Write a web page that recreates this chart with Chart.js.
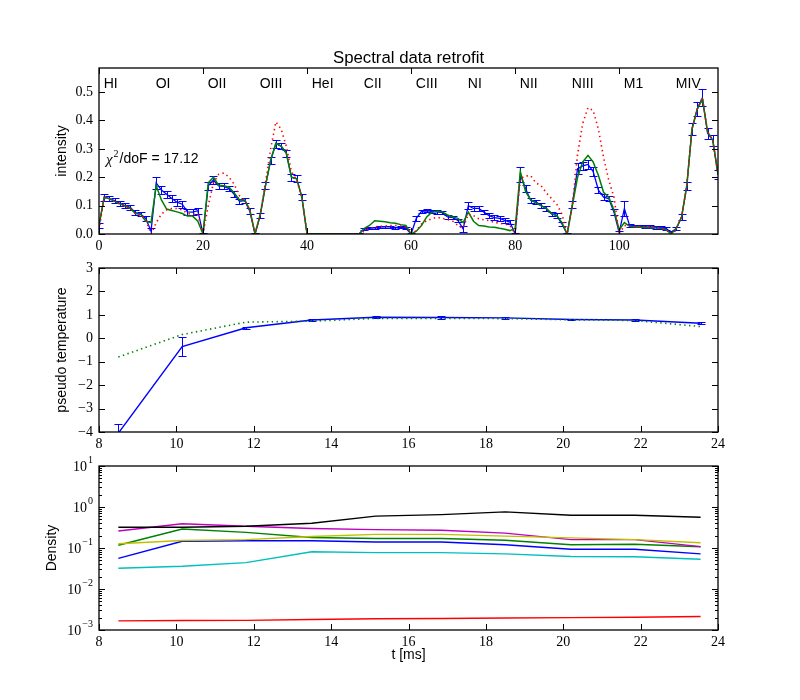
<!DOCTYPE html>
<html>
<head>
<meta charset="utf-8">
<script src="https://cdn.jsdelivr.net/npm/chart.js@4/dist/chart.umd.min.js"></script>
<style>
body { margin: 0; background: #fff; }
#wrap { position: relative; width: 800px; height: 700px; }
canvas { position: absolute; left: 0; }
</style>
</head>
<body>
<div id="wrap">
<canvas id="c1" width="800" height="250" style="top:0px"></canvas>
<canvas id="c2" width="800" height="200" style="top:250px"></canvas>
<canvas id="c3" width="800" height="250" style="top:450px"></canvas>
</div>
<script>
// ---- top panel: spectral lines, 10 channels per line group
var groups = ['HI','OI','OII','OIII','HeI','CII','CIII','NI','NII','NIII','M1','MIV'];
var measured = [
  0.03, 0.13, 0.125, 0.118, 0.108, 0.1, 0.094, 0.075, 0.07, 0.055,
  0.01, 0.18, 0.155, 0.14, 0.125, 0.112, 0.105, 0.078, 0.077, 0.082,
  0.0, 0.17, 0.19, 0.17, 0.168, 0.16, 0.14, 0.115, 0.118, 0.08,
  0.0, 0.065, 0.17, 0.26, 0.318, 0.31, 0.285, 0.2, 0.195, 0.13,
  0, 0, 0, 0, 0, 0, 0, 0, 0, 0,
  0.0, 0.018, 0.02, 0.022, 0.024, 0.025, 0.025, 0.022, 0.024, 0.02,
  0.0, 0.055, 0.08, 0.082, 0.08, 0.078, 0.075, 0.06, 0.058, 0.048,
  0.018, 0.1, 0.09, 0.09, 0.077, 0.065, 0.058, 0.055, 0.048, 0.042,
  0.0, 0.21, 0.16, 0.118, 0.113, 0.1, 0.089, 0.071, 0.065, 0.035,
  0.0, 0.105, 0.23, 0.24, 0.245, 0.22, 0.155, 0.13, 0.125, 0.077,
  0.005, 0.09, 0.03, 0.028, 0.028, 0.026, 0.025, 0.024, 0.022, 0.02,
  0.005, 0.02, 0.06, 0.17, 0.37, 0.44, 0.48, 0.355, 0.33, 0.21
];
var measuredErr = [
  0.01, 0.012, 0.008, 0.008, 0.008, 0.008, 0.008, 0.008, 0.008, 0.01,
  0.012, 0.022, 0.015, 0.013, 0.012, 0.012, 0.012, 0.01, 0.01, 0.01,
  0.005, 0.015, 0.015, 0.01, 0.01, 0.01, 0.01, 0.01, 0.01, 0.01,
  0.005, 0.01, 0.012, 0.012, 0.015, 0.012, 0.012, 0.012, 0.012, 0.01,
  0, 0, 0, 0, 0, 0, 0, 0, 0, 0,
  0.003, 0.004, 0.004, 0.004, 0.004, 0.004, 0.004, 0.004, 0.004, 0.004,
  0.004, 0.01, 0.006, 0.006, 0.006, 0.006, 0.006, 0.006, 0.006, 0.006,
  0.01, 0.012, 0.01, 0.01, 0.008, 0.008, 0.008, 0.008, 0.008, 0.008,
  0.004, 0.025, 0.012, 0.008, 0.008, 0.008, 0.008, 0.008, 0.008, 0.008,
  0.004, 0.012, 0.02, 0.015, 0.015, 0.015, 0.012, 0.01, 0.01, 0.01,
  0.006, 0.025, 0.006, 0.005, 0.005, 0.005, 0.005, 0.005, 0.005, 0.005,
  0.006, 0.006, 0.012, 0.015, 0.02, 0.025, 0.03, 0.02, 0.02, 0.015
];
var fitA = [
  0.03, 0.13, 0.124, 0.115, 0.106, 0.099, 0.09, 0.072, 0.07, 0.045,
  0.04, 0.17, 0.12, 0.088, 0.083, 0.078, 0.072, 0.063, 0.063, 0.045,
  0.0, 0.18, 0.2, 0.172, 0.17, 0.165, 0.145, 0.12, 0.12, 0.085,
  0.0, 0.07, 0.17, 0.26, 0.32, 0.31, 0.285, 0.2, 0.195, 0.13,
  0, 0, 0, 0, 0, 0, 0, 0, 0, 0,
  0.0, 0.02, 0.03, 0.047, 0.045, 0.043, 0.04, 0.038, 0.033, 0.03,
  0.0, 0.01, 0.03, 0.06, 0.077, 0.08, 0.078, 0.067, 0.06, 0.055,
  0.04, 0.077, 0.045, 0.03, 0.028, 0.025, 0.024, 0.02, 0.017, 0.012,
  0.02, 0.22, 0.15, 0.12, 0.11, 0.1, 0.09, 0.072, 0.066, 0.04,
  0.0, 0.1, 0.2, 0.254, 0.277, 0.254, 0.207, 0.147, 0.13, 0.085,
  0.015, 0.04, 0.027, 0.025, 0.024, 0.023, 0.022, 0.021, 0.02, 0.015,
  0.0, 0.02, 0.06, 0.17, 0.37, 0.44, 0.475, 0.36, 0.33, 0.21
];
var fitB = [
  0.015, 0.13, 0.122, 0.115, 0.105, 0.098, 0.09, 0.072, 0.066, 0.05,
  0.0, 0.04, 0.07, 0.085, 0.09, 0.09, 0.085, 0.072, 0.07, 0.07,
  0.0, 0.1, 0.18, 0.21, 0.215, 0.2, 0.175, 0.135, 0.12, 0.085,
  0.0, 0.07, 0.18, 0.3, 0.395, 0.37, 0.31, 0.22, 0.19, 0.13,
  0, 0, 0, 0, 0, 0, 0, 0, 0, 0,
  0.0, 0.01, 0.02, 0.025, 0.027, 0.028, 0.03, 0.03, 0.028, 0.025,
  0.0, 0.012, 0.035, 0.047, 0.054, 0.059, 0.055, 0.052, 0.045, 0.03,
  0.02, 0.07, 0.065, 0.054, 0.05, 0.047, 0.041, 0.038, 0.035, 0.03,
  0.0, 0.195, 0.205, 0.205, 0.18, 0.17, 0.145, 0.125, 0.105, 0.07,
  0.0, 0.1, 0.28, 0.39, 0.445, 0.435, 0.37, 0.27, 0.19, 0.13,
  0.0, 0.03, 0.028, 0.027, 0.026, 0.025, 0.024, 0.023, 0.02, 0.015,
  0.0, 0.02, 0.06, 0.17, 0.37, 0.44, 0.48, 0.36, 0.33, 0.21
];
var chanTicks = [0, 20, 40, 60, 80, 100];
var intensTicks = [0, 0.1, 0.2, 0.3, 0.4, 0.5];
var chi2 = '17.12';

// ---- middle panel: pseudo temperature vs time
var times = [8.5, 10.15, 11.8, 13.5, 15.15, 16.85, 18.5, 20.2, 21.85, 23.55];
var pseudoT = [-4.05, -0.35, 0.45, 0.78, 0.9, 0.89, 0.87, 0.8, 0.78, 0.64];
var pseudoTErr = [0.4, 0.42, 0.05, 0.05, 0.05, 0.05, 0.04, 0.04, 0.04, 0.04];
var pseudoTFit = [-0.8, 0.16, 0.69, 0.73, 0.85, 0.85, 0.84, 0.79, 0.76, 0.5];
var timeTicks = [8, 10, 12, 14, 16, 18, 20, 22, 24];
var tempTicks = [-4, -3, -2, -1, 0, 1, 2, 3];

// ---- bottom panel: densities
var densB = [0.056, 0.146, 0.15, 0.15, 0.14, 0.14, 0.12, 0.093, 0.093, 0.072];
var densG = [0.117, 0.29, 0.24, 0.18, 0.17, 0.17, 0.155, 0.12, 0.123, 0.107];
var densR = [0.00167, 0.0017, 0.00172, 0.00181, 0.00188, 0.0019, 0.00197, 0.002, 0.00205, 0.00214];
var densC = [0.032, 0.036, 0.044, 0.081, 0.077, 0.077, 0.072, 0.062, 0.061, 0.053];
var densM = [0.26, 0.39, 0.34, 0.3, 0.28, 0.27, 0.23, 0.16, 0.16, 0.108];
var densY = [0.127, 0.153, 0.16, 0.19, 0.215, 0.215, 0.195, 0.177, 0.16, 0.134];
var densK = [0.32, 0.32, 0.34, 0.4, 0.6, 0.65, 0.76, 0.63, 0.63, 0.56];
var densTicks = [1e-3, 1e-2, 1e-1, 1, 10];
var densExp = ['\u22123', '\u22122', '\u22121', '0', '1'];

var SANS = '"Liberation Sans", Arial, sans-serif';
var SERIF = '"Liberation Serif", "Times New Roman", serif';

function pts(xs, ys) {
  return ys.map(function (v, i) { return { x: xs[i], y: v }; });
}
var chan = measured.map(function (v, i) { return i; });

function xAxis(type, min, max, tickVals, h, fmt, show) {
  return {
    type: type, min: min, max: max,
    grid: { display: false, drawTicks: false },
    border: { display: false },
    ticks: { display: show !== false, color: '#000', padding: 4, maxRotation: 0,
             font: { family: SERIF, size: 14 }, callback: fmt },
    afterBuildTicks: function (s) { s.ticks = tickVals.map(function (v) { return { value: v }; }); },
    afterFit: function (s) { s.height = h; }
  };
}
function yAxis(type, min, max, tickVals, fmt, show) {
  return {
    type: type, min: min, max: max,
    grid: { display: false, drawTicks: false },
    border: { display: false },
    ticks: { display: show !== false, color: '#000', padding: 6,
             font: { family: SERIF, size: 14 }, callback: fmt },
    afterBuildTicks: function (s) { s.ticks = tickVals.map(function (v) { return { value: v }; }); },
    afterFit: function (s) { s.width = 99; }
  };
}

var errorBars = {
  id: 'errorBars',
  beforeDatasetsDraw: function (chart) {
    var ctx = chart.ctx, a = chart.chartArea, x = chart.scales.x, y = chart.scales.y;
    ctx.save();
    ctx.beginPath(); ctx.rect(a.left, a.top, a.right - a.left, a.bottom - a.top); ctx.clip();
    chart.data.datasets.forEach(function (ds) {
      if (!ds.errors) return;
      ctx.strokeStyle = ds.borderColor; ctx.lineWidth = 1;
      ds.data.forEach(function (p, i) {
        var e = ds.errors[i];
        if (!e) return;
        var px = Math.round(x.getPixelForValue(p.x)) + 0.5;
        var y1 = Math.round(y.getPixelForValue(p.y + e)) + 0.5;
        var y2 = Math.round(y.getPixelForValue(p.y - e)) + 0.5;
        ctx.beginPath();
        ctx.moveTo(px, y1); ctx.lineTo(px, y2);
        ctx.moveTo(px - 4, y1); ctx.lineTo(px + 4, y1);
        ctx.moveTo(px - 4, y2); ctx.lineTo(px + 4, y2);
        ctx.stroke();
      });
    });
    ctx.restore();
  }
};

function frame(minor) {
  return {
    id: 'frame',
    afterDraw: function (chart) {
      var ctx = chart.ctx, a = chart.chartArea, x = chart.scales.x, y = chart.scales.y;
      ctx.save();
      ctx.strokeStyle = '#000'; ctx.lineWidth = 1;
      ctx.beginPath();
      x.ticks.forEach(function (t) {
        var px = Math.round(x.getPixelForValue(t.value)) + 0.5;
        ctx.moveTo(px, a.bottom); ctx.lineTo(px, a.bottom - 6);
        ctx.moveTo(px, a.top); ctx.lineTo(px, a.top + 6);
      });
      y.ticks.forEach(function (t) {
        var py = Math.round(y.getPixelForValue(t.value)) + 0.5;
        ctx.moveTo(a.left, py); ctx.lineTo(a.left + 6, py);
        ctx.moveTo(a.right, py); ctx.lineTo(a.right - 6, py);
      });
      (minor || []).forEach(function (v) {
        var py = Math.round(y.getPixelForValue(v)) + 0.5;
        ctx.moveTo(a.left, py); ctx.lineTo(a.left + 3, py);
        ctx.moveTo(a.right, py); ctx.lineTo(a.right - 3, py);
      });
      ctx.stroke();
      ctx.lineWidth = 1.3;
      ctx.strokeRect(a.left, a.top, a.right - a.left, a.bottom - a.top);
      ctx.restore();
    }
  };
}

function texts(draw) {
  return {
    id: 'texts',
    afterDraw: function (chart) {
      var ctx = chart.ctx;
      ctx.save();
      ctx.fillStyle = '#000';
      draw(ctx, chart.chartArea, chart.scales.x, chart.scales.y);
      ctx.restore();
    }
  };
}

function vLabel(ctx, text, cx, cy) {
  ctx.save();
  ctx.font = '14px ' + SANS;
  ctx.textAlign = 'center'; ctx.textBaseline = 'middle';
  ctx.translate(cx, cy); ctx.rotate(-Math.PI / 2);
  ctx.fillText(text, 0, 0);
  ctx.restore();
}

var common = {
  responsive: false,
  animation: false,
  events: [],
  plugins: { legend: { display: false }, tooltip: { enabled: false } }
};

// ---------- top chart
new Chart(document.getElementById('c1'), {
  type: 'line',
  data: {
    datasets: [
      { data: pts(chan, measured), errors: measuredErr, borderColor: '#0000ff', borderWidth: 1.3,
        pointRadius: 0, tension: 0, order: 3 },
      { data: pts(chan, fitA), borderColor: '#008000', borderWidth: 1.5,
        pointRadius: 0, tension: 0, order: 2 },
      { data: pts(chan, fitB), borderColor: '#ff0000', borderWidth: 1.6, borderDash: [1.4, 3.4],
        pointRadius: 0, tension: 0, order: 1 }
    ]
  },
  options: Object.assign({}, common, {
    layout: { padding: { top: 68, right: 82, bottom: 0, left: 0 } },
    scales: {
      x: xAxis('linear', 0, 119, chanTicks, 16, function (v) { return String(v); }),
      y: yAxis('linear', 0, 0.585, intensTicks, function (v) { return v.toFixed(1); })
    }
  }),
  plugins: [errorBars, frame(), texts(function (ctx, a, x, y) {
    ctx.font = '16.8px ' + SANS;
    ctx.textAlign = 'center'; ctx.textBaseline = 'middle';
    ctx.fillText('Spectral data retrofit', (a.left + a.right) / 2, a.top - 10);

    ctx.font = '14px ' + SANS;
    ctx.textAlign = 'left';
    groups.forEach(function (g, i) {
      ctx.fillText(g, x.getPixelForValue(i * 10 + 0.9), y.getPixelForValue(0.527));
    });

    var tx = a.left + 7, ty = a.top + 91;
    ctx.font = 'italic 15px ' + SERIF;
    ctx.fillText('\u03c7', tx, ty + 1);
    tx += ctx.measureText('\u03c7').width + 1;
    ctx.font = '10px ' + SERIF;
    ctx.fillText('2', tx, ty - 5);
    tx += ctx.measureText('2').width + 1;
    ctx.font = '14px ' + SANS;
    ctx.fillText('/doF = ' + chi2, tx, ty);

    vLabel(ctx, 'intensity', 62, (a.top + a.bottom) / 2);
  })]
});

// ---------- middle chart
new Chart(document.getElementById('c2'), {
  type: 'line',
  data: {
    datasets: [
      { data: pts(times, pseudoT), errors: pseudoTErr, borderColor: '#0000ff', borderWidth: 1.4,
        pointRadius: 0, tension: 0, order: 2 },
      { data: pts(times, pseudoTFit), borderColor: '#008000', borderWidth: 1.6, borderDash: [1.4, 3.4],
        pointRadius: 0, tension: 0, order: 1 }
    ]
  },
  options: Object.assign({}, common, {
    layout: { padding: { top: 18, right: 82, bottom: 0, left: 0 } },
    scales: {
      x: xAxis('linear', 8, 24, timeTicks, 18, function (v) { return String(v); }),
      y: yAxis('linear', -4, 3, tempTicks, function (v) { return String(v).replace('-', '\u2212'); })
    }
  }),
  plugins: [errorBars, frame(), texts(function (ctx, a) {
    vLabel(ctx, 'pseudo temperature', 62, (a.top + a.bottom) / 2);
  })]
});

// ---------- bottom chart
var minorLog = [];
[1e-3, 1e-2, 1e-1, 1].forEach(function (d) {
  for (var m = 2; m <= 9; m++) minorLog.push(m * d);
});
function densSet(vals, color, order) {
  return { data: pts(times, vals), borderColor: color, borderWidth: 1.4,
           pointRadius: 0, tension: 0, order: order };
}
new Chart(document.getElementById('c3'), {
  type: 'line',
  data: {
    datasets: [
      densSet(densB, '#0000ff', 7),
      densSet(densG, '#008000', 6),
      densSet(densR, '#ff0000', 5),
      densSet(densC, '#00bfbf', 4),
      densSet(densM, '#bf00bf', 3),
      densSet(densY, '#bfbf00', 2),
      densSet(densK, '#000000', 1)
    ]
  },
  options: Object.assign({}, common, {
    layout: { padding: { top: 16, right: 82, bottom: 0, left: 0 } },
    scales: {
      x: xAxis('linear', 8, 24, timeTicks, 70, function (v) { return String(v); }),
      y: yAxis('logarithmic', 1e-3, 10, densTicks, function () { return ''; }, false)
    }
  }),
  plugins: [frame(minorLog), texts(function (ctx, a, x, y) {
    densTicks.forEach(function (v, i) {
      var py = y.getPixelForValue(v);
      ctx.textBaseline = 'middle'; ctx.textAlign = 'right';
      ctx.font = '10px ' + SERIF;
      var ew = ctx.measureText(densExp[i]).width;
      ctx.fillText(densExp[i], a.left - 6, py - 6);
      ctx.font = '14px ' + SERIF;
      ctx.fillText('10', a.left - 7 - ew, py + 1);
    });
    vLabel(ctx, 'Density', 52, (a.top + a.bottom) / 2);
    ctx.font = '14px ' + SANS;
    ctx.textAlign = 'center'; ctx.textBaseline = 'middle';
    ctx.fillText('t [ms]', (a.left + a.right) / 2, a.bottom + 25);
  })]
});
</script>
</body>
</html>
